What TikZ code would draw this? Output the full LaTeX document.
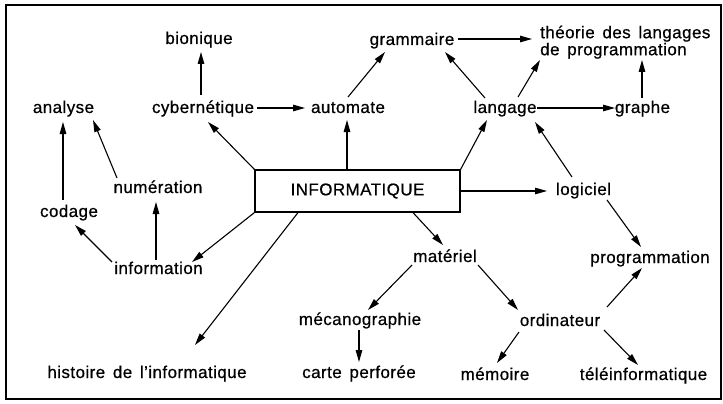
\documentclass[tikz,border=0pt]{standalone}
\usepackage{fontspec}
\setmainfont{Liberation Sans}[WordSpace=1.5, LetterSpace=2.5, FakeBold=0.6]
\usetikzlibrary{arrows.meta,calc}
\tikzset{
  lbl/.style={anchor=base, inner sep=0pt, font=\fontsize{17}{17}\selectfont},
  arr/.style={line width=1.1pt, -{Triangle[length=12pt,width=6.5pt]}},
  mainbox/.style={draw, line width=1.2pt, minimum width=205pt, minimum height=42pt, inner sep=0pt, font=\fontsize{17}{17}\selectfont}
}
\begin{document}
\begin{tikzpicture}[x=1pt,y=-1pt]
\useasboundingbox (0,0) rectangle (723,404);
\draw[line width=1.2pt] (6,5) rectangle (721,399);

\node[lbl] (bio) at (199,44) {bionique};
\node[lbl] (ana) at (63.5,113) {analyse};
\node[lbl] (cyb) at (203,113) {cybernétique};
\node[lbl] (auto) at (348,113) {automate};
\node[lbl] (gram) at (412,45) {grammaire};
\node[lbl, anchor=north west, align=left, font=\fontsize{17}{17}\selectfont] (theo) at (540,25.5) {théorie des langages\\de programmation};
\node[lbl] (lang) at (505,113) {langage};
\node[lbl] (graphe) at (642.5,113) {graphe};
\node[lbl] (logi) at (583.5,195) {logiciel};
\node[mainbox] (box) at (357.5,191) {INFORMATIQUE};
\node[lbl] (num) at (158,193) {numération};
\node[lbl] (cod) at (69,217) {codage};
\node[lbl] (info) at (158.5,274) {information};
\node[lbl] (hist) at (147,378) {histoire de l'informatique};
\node[lbl] (meca) at (360,325) {mécanographie};
\node[lbl] (carte) at (359,378) {carte perforée};
\node[lbl] (mat) at (445,262) {matériel};
\node[lbl] (prog) at (650,263) {programmation};
\node[lbl] (ordi) at (560,326) {ordinateur};
\node[lbl] (mem) at (495,380) {mémoire};
\node[lbl] (tele) at (643.5,380) {téléinformatique};

% connectors
\draw[arr] ($(cyb.base)+(-2,-18)$) -- ($(bio.base)+(2,8)$);
\draw[arr] ($(cyb.base)+(54,-5)$) -- ($(auto.base)+(-43,-5)$);
\draw[arr] (box.north west) -- ($(cyb.base)+(5,9)$);
\draw[arr] ($(box.north)+(-10.5,0)$) -- ($(auto.base)+(-1,7)$);
\draw[arr] ($(auto.base)+(0,-16)$) -- ($(gram.base)+(-27,7)$);
\draw[arr] ($(gram.base)+(46,-6)$) -- ($(theo.north west)+(-8,13.5)$);
\draw[arr] ($(lang.base)+(-20,-15)$) -- ($(gram.base)+(33,7)$);
\draw[arr] ($(lang.base)+(13,-16)$) -- ($(theo.north west)+(0,34.5)$);
\draw[arr] ($(lang.base)+(32,-5)$) -- ($(graphe.base)+(-27.5,-5)$);
\draw[arr] ($(graphe.base)+(-0.5,-15)$) -- ($(theo.north west)+(102,34.5)$);
\draw[arr] (box.north east) -- ($(lang.base)+(-18,7)$);
\draw[arr] ($(logi.base)+(-11.5,-18)$) -- ($(lang.base)+(30,9)$);
\draw[arr] (box.east) -- ($(logi.base)+(-36.5,-4)$);
\draw[arr] ($(logi.base)+(23.5,5)$) -- ($(prog.base)+(-9,-16)$);
\draw[arr] ($(box.south)+(55.5,0)$) -- ($(mat.base)+(-2,-17)$);
\draw[arr] ($(mat.base)+(-33,3)$) -- ($(meca.base)+(8,-15)$);
\draw[arr] ($(mat.base)+(33,3)$) -- ($(ordi.base)+(-42,-16)$);
\draw[arr] ($(meca.base)+(-1,5)$) -- ($(carte.base)+(0,-16)$);
\draw[arr] ($(ordi.base)+(47,-19)$) -- ($(prog.base)+(-8,5)$);
\draw[arr] ($(ordi.base)+(-41,6)$) -- ($(mem.base)+(2,-17)$);
\draw[arr] ($(ordi.base)+(44,4)$) -- ($(tele.base)+(-5.5,-15)$);
\draw[arr] (box.south west) -- ($(info.base)+(33.5,-12)$);
\draw[arr] ($(box.south)+(-59.5,0)$) -- ($(hist.base)+(48,-33)$);
\draw[arr] ($(info.base)+(-2.5,-14)$) -- ($(num.base)+(-2,9)$);
\draw[arr] ($(info.base)+(-46.5,-12)$) -- ($(cod.base)+(6,8)$);
\draw[arr] ($(cod.base)+(-6,-17)$) -- ($(ana.base)+(-0.5,9)$);
\draw[arr] ($(num.base)+(-41,-15)$) -- ($(ana.base)+(29.5,7)$);
\end{tikzpicture}
\end{document}
